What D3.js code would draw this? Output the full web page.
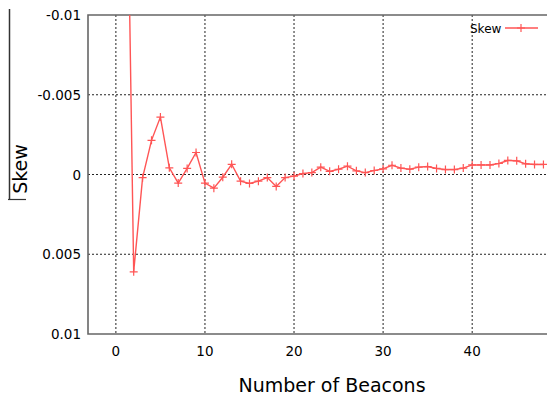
<!DOCTYPE html>
<html>
<head>
<style>
html, body { margin:0; padding:0; background:#fff; }
svg text { font-family: "DejaVu Sans", sans-serif; fill:#000; }
</style>
</head>
<body>
<svg id="chart" width="547" height="397"></svg>
<script src="https://cdn.jsdelivr.net/npm/d3@7/dist/d3.min.js"></script>
<script>

var beacons = [1,2,3,4,5,6,7,8,9,10,11,12,13,14,15,16,17,18,19,20,21,22,23,24,
    25,26,27,28,29,30,31,32,33,34,35,36,37,38,39,40,41,42,43,44,45,46,47,48]
var skew = [-0.03, 0.0061, 0.0002, -0.00214, -0.0036, -0.00042, 0.00054, -0.00038,
    -0.00138, 0.00054, 0.00086, 0.00017, -0.00064, 0.00042, 0.00056, 0.00042,
    0.00019, 0.00075, 0.00019, 0.0001, -0.00006, -0.00012, -0.00046, -0.0002,
    -0.00033, -0.00052, -0.00023, -0.00012, -0.00025, -0.00035, -0.00058, -0.0004,
    -0.00033, -0.00046, -0.0005, -0.00038, -0.00031, -0.00031, -0.0004, -0.0006,
    -0.0006, -0.0006, -0.00069, -0.00088, -0.00086, -0.00067, -0.00063, -0.00063]
var xTicks = [0, 10, 20, 30, 40]
var yTicks = [-0.01, -0.005, 0, 0.005, 0.01]
var yTickLabels = ["-0.01", "-0.005", "0", "0.005", "0.01"]

var svg = d3.select("#chart")
var pLeft = 88, pTop = 15, pBottom = 334, pRight = 547

var x = d3.scaleLinear().domain([-3.13, 48.4]).range([pLeft, pRight])
var y = d3.scaleLinear().domain([-0.01, 0.01]).range([pTop, pBottom])

// grid
svg.append("g").selectAll("line")
    .data(xTicks).enter().append("line")
    .attr("x1", d => x(d)).attr("x2", d => x(d))
    .attr("y1", pTop).attr("y2", pBottom)
    .attr("stroke", "#222").attr("stroke-width", 1)
    .attr("stroke-dasharray", "2,2")

svg.append("g").selectAll("line")
    .data(yTicks.slice(1, 4)).enter().append("line")
    .attr("x1", pLeft).attr("x2", pRight)
    .attr("y1", d => y(d)).attr("y2", d => y(d))
    .attr("stroke", "#222").attr("stroke-width", 1)
    .attr("stroke-dasharray", "2,2")

// frame
svg.append("path")
    .attr("d", "M" + pRight + "," + pTop + "H" + pLeft + "V" + pBottom + "H" + pRight)
    .attr("fill", "none").attr("stroke", "#666").attr("stroke-width", 1.6)

// tick labels
svg.append("g").selectAll("text")
    .data(yTicks).enter().append("text")
    .attr("x", pLeft - 7).attr("y", d => y(d) + 5)
    .attr("text-anchor", "end").style("font-size", "13.5px")
    .text((d, i) => yTickLabels[i])

svg.append("g").selectAll("text")
    .data(xTicks).enter().append("text")
    .attr("x", d => x(d)).attr("y", 356)
    .attr("text-anchor", "middle").style("font-size", "13.5px")
    .text(d => d)

// axis titles
svg.append("text")
    .attr("x", 332).attr("y", 392)
    .attr("text-anchor", "middle").style("font-size", "19px")
    .text("Number of Beacons")

svg.append("text")
    .attr("transform", "translate(27,169) rotate(-90)")
    .attr("text-anchor", "middle").style("font-size", "19px")
    .text("Skew")

svg.append("line")
    .attr("x1", 9.5).attr("x2", 9.5).attr("y1", 9).attr("y2", 200)
    .attr("stroke", "#333").attr("stroke-width", 1.5)
svg.append("line")
    .attr("x1", 8).attr("x2", 26).attr("y1", 199.5).attr("y2", 199.5)
    .attr("stroke", "#333").attr("stroke-width", 1.2)

// series
svg.append("clipPath").attr("id", "clip")
    .append("rect").attr("x", pLeft).attr("y", pTop)
    .attr("width", pRight - pLeft).attr("height", pBottom - pTop)

var plot = svg.append("g").attr("clip-path", "url(#clip)")
var pts = beacons.map((b, i) => [b, skew[i]])
var red = "#ff5555"

plot.append("path")
    .datum(pts)
    .attr("d", d3.line().x(d => x(d[0])).y(d => y(d[1])))
    .attr("fill", "none").attr("stroke", red).attr("stroke-width", 1.4)

function plus(cx, cy) {
    return "M" + (cx - 4) + "," + cy + "H" + (cx + 4) + "M" + cx + "," + (cy - 4) + "V" + (cy + 4)
}

plot.selectAll("path.mk")
    .data(pts).enter().append("path")
    .attr("class", "mk")
    .attr("d", d => plus(x(d[0]), y(d[1])))
    .attr("stroke", red).attr("stroke-width", 1.2)

// legend
svg.append("text")
    .attr("x", 470).attr("y", 33).style("font-size", "12px")
    .text("Skew")
svg.append("line")
    .attr("x1", 505).attr("x2", 538).attr("y1", 28).attr("y2", 28)
    .attr("stroke", red).attr("stroke-width", 1.4)
svg.append("path")
    .attr("d", plus(521, 28))
    .attr("stroke", red).attr("stroke-width", 1.2)

</script>
</body>
</html>
